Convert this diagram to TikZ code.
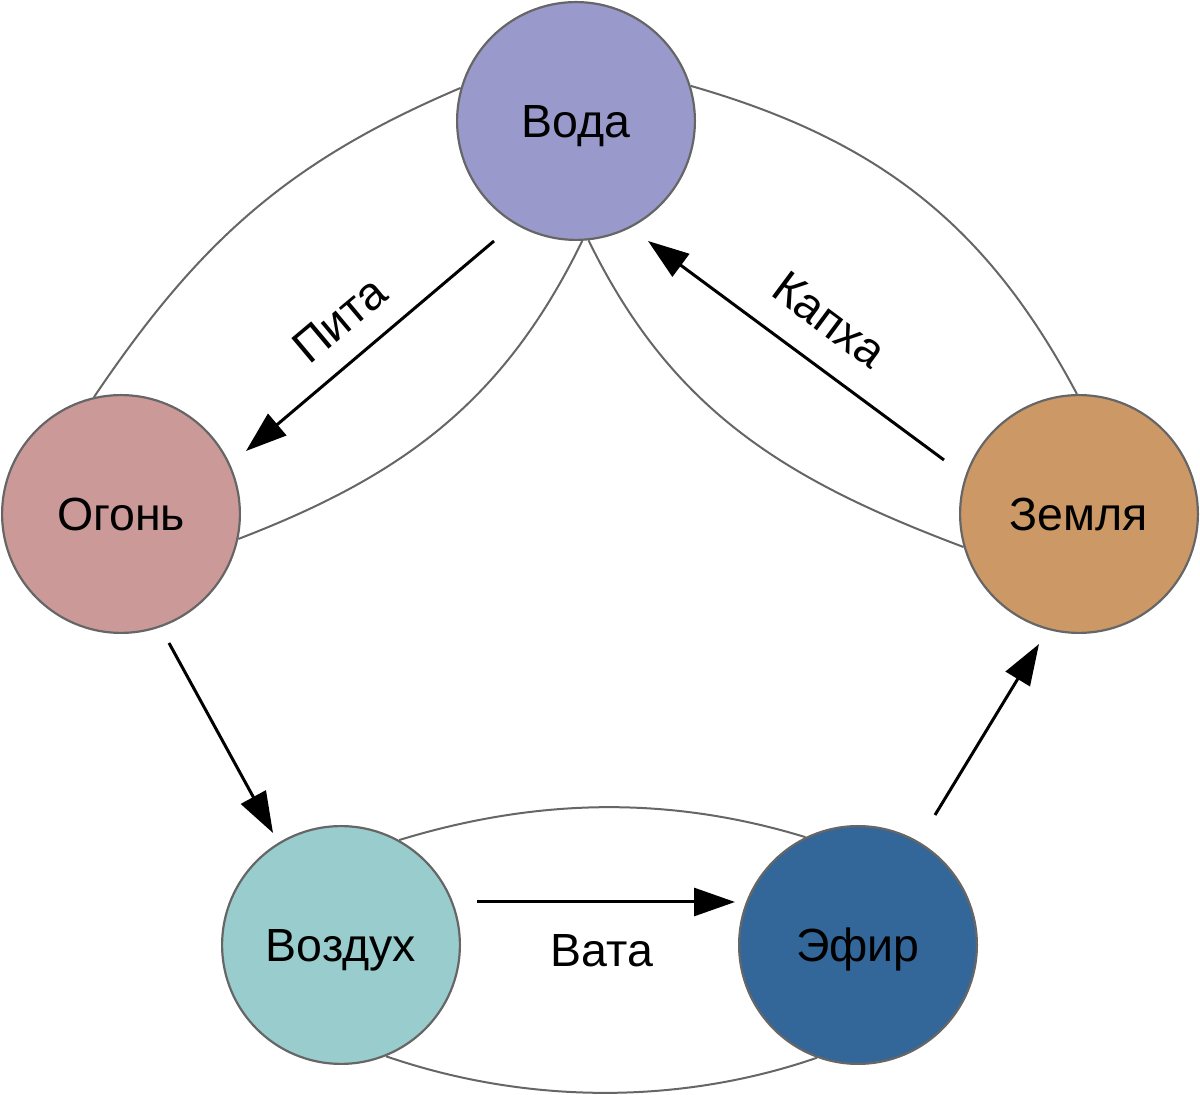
\documentclass[tikz,border=0pt]{standalone}
\usepackage{fontspec}
\setmainfont{Liberation Sans}
\usetikzlibrary{arrows.meta}
\definecolor{cvoda}{HTML}{9999CC}
\definecolor{cogon}{HTML}{CC9999}
\definecolor{czemlya}{HTML}{CC9966}
\definecolor{cvozdukh}{HTML}{99CCCC}
\definecolor{cefir}{HTML}{336699}
\definecolor{cline}{HTML}{666666}
\begin{document}
\begin{tikzpicture}[x=1pt,y=1pt,
  elem/.style={circle, draw=cline, line width=2.2pt, minimum size=237.8pt, inner sep=0pt,
    font=\fontsize{46.5}{52}\selectfont, text height=33.3pt, text depth=0pt},
  link/.style={draw=cline, line width=2pt},
  flow/.style={line width=3pt, -{Triangle[length=41pt,width=28pt]}},
  lbl/.style={font=\fontsize{46.5}{52}\selectfont, text height=33.3pt, text depth=0pt, inner sep=0pt}]
\useasboundingbox (0,0) rectangle (1200,1095);

\node[elem, fill=cvoda]    (voda)    at (576,974) {Вода};
\node[elem, fill=cogon]    (ogon)    at (121,581) {Огонь};
\node[elem, fill=czemlya]  (zemlya)  at (1079,581) {Земля};
\node[elem, fill=cvozdukh] (vozdukh) at (341,150) {Воздух};
\node[elem, fill=cefir]    (efir)    at (858,150) {Эфир};

% enclosing curves
\draw[link] (voda.164) to[out=203, in=56] (ogon.103);
\draw[link] (voda.-87) to[out=244, in=21] (ogon.-12);
\draw[link] (voda.17) to[out=-16, in=118] (zemlya.91);
\draw[link] (voda.-84) to[out=-64, in=159.4] (zemlya.196);
\draw[link] (vozdukh.61) to[out=17, in=163, looseness=0.9] (efir.116);
\draw[link] (vozdukh.-68) to[out=-19, in=-161, looseness=0.87] (efir.-110);

% arrow end points
\coordinate (pitaS) at (494,854);
\coordinate (pitaE) at (246,644);
\coordinate (kaphaS) at (944,635);
\coordinate (kaphaE) at (648,854);
\coordinate (ovS) at (169,452);
\coordinate (ovE) at (273,262);
\coordinate (vataS) at (477,193);
\coordinate (vataE) at (735,193);
\coordinate (ezS) at (935,280);
\coordinate (ezE) at (1039,451);

\draw[flow] (pitaS) -- (pitaE);
\draw[flow] (kaphaS) -- (kaphaE);
\draw[flow] (ovS) -- (ovE);
\draw[flow] (vataS) -- (vataE);
\draw[flow] (ezS) -- (ezE);

\node[lbl, rotate=40] (lpita) at (339,776) {Пита};
\node[lbl, rotate=-36.6] (lkapha) at (830,776) {Капха};
\node[lbl] (lvata) at (602,145) {Вата};
\end{tikzpicture}
\end{document}
